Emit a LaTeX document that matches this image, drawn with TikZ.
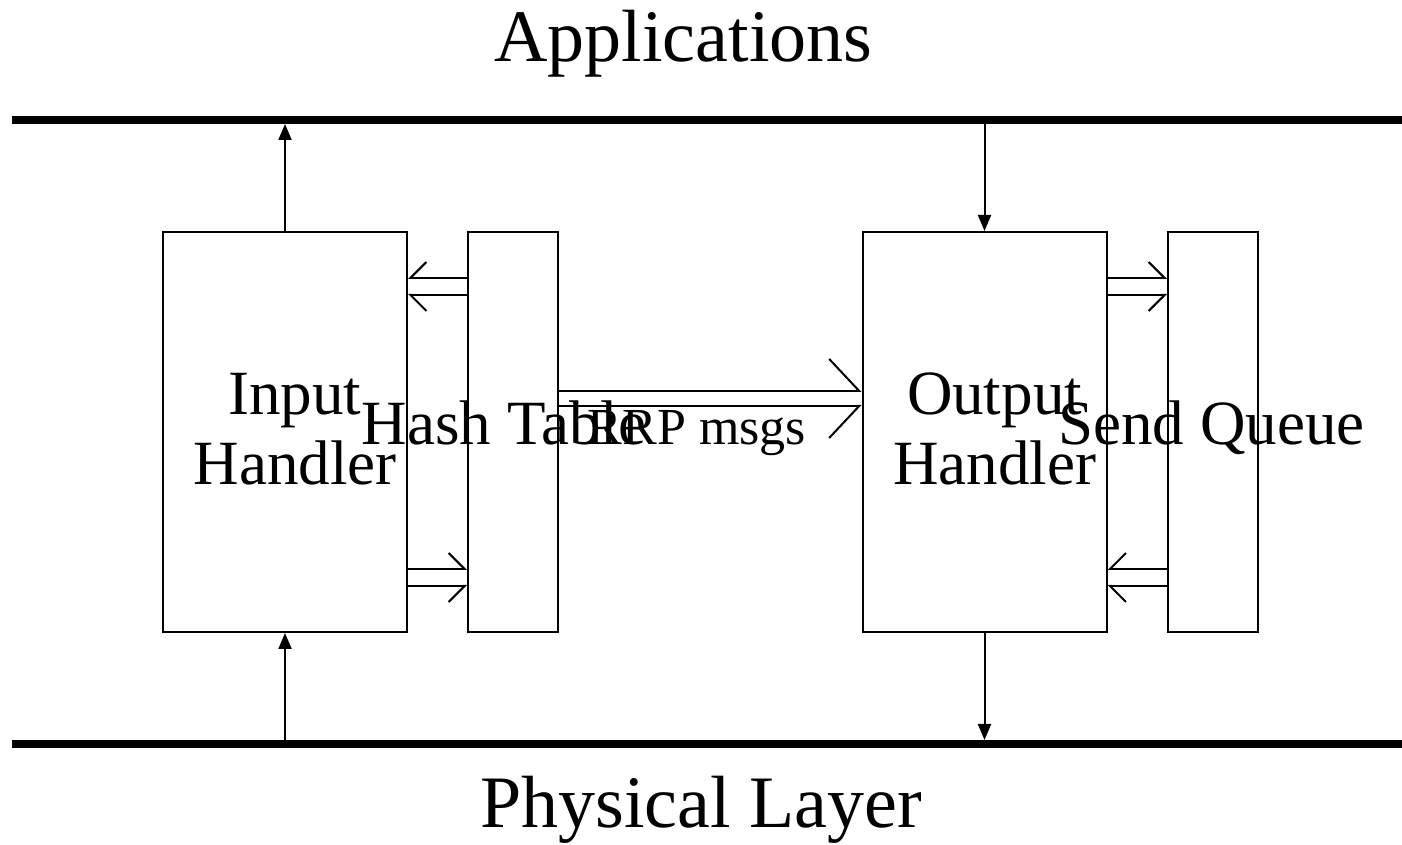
\documentclass[tikz,border=0pt]{standalone}
\usepackage{fontspec}
\setmainfont{Liberation Serif}
\usetikzlibrary{arrows.meta,positioning}
\tikzset{
  blk/.style={draw,line width=1pt,minimum width=122pt,minimum height=200pt,inner sep=0pt},
  blkn/.style={blk,minimum width=45pt},
  bar/.style={line width=4pt},
  flow/.style={-{Triangle[length=8pt,width=6.5pt]},line width=1pt},
  barbl/.style={-{Straight Barb[left,length=8pt,width=16pt]},line width=1pt},
  barbr/.style={-{Straight Barb[right,length=8pt,width=16pt]},line width=1pt},
  bigl/.style={-{Straight Barb[left,length=15pt,width=32pt]},line width=1pt},
  bigr/.style={-{Straight Barb[right,length=15pt,width=32pt]},line width=1pt},
  lbl/.style={inner sep=0pt,font=\fontsize{31.5}{35}\selectfont,align=center},
  ttl/.style={inner sep=0pt,font=\fontsize{37}{40}\selectfont,anchor=base},
}

\begin{document}
\begin{tikzpicture}[x=0.5pt,y=0.5pt]
  \useasboundingbox (0,0) rectangle (1402,845);

  % the two layers
  \coordinate (topl) at (12,725);
  \coordinate (topr) at (1402,725);
  \coordinate (botl) at (12,101);
  \coordinate (botr) at (1402,101);
  \coordinate (tope) at (12,721);
  \coordinate (bote) at (12,105);
  \draw[bar] (topl) -- (topr);
  \draw[bar] (botl) -- (botr);
  \node[ttl] (apps) at (683.5,783) {Applications};
  \node[ttl] (phys) at (701,17) {Physical Layer};

  % blocks
  \node[blk]  (ih) at (285,413) {};
  \node[blkn] (ht) at (513,413) {};
  \node[blk]  (oh) at (984.5,413) {};
  \node[blkn] (sq) at (1213,413) {};

  \node[lbl] (ihl) at (295,416) {Input\\Handler};
  \node[lbl,anchor=base] (htl) at (504,400) {Hash Table};
  \node[lbl,anchor=base,font=\fontsize{26}{30}\selectfont] (rrp) at (697,400) {RRP msgs};
  \node[lbl] (ohl) at (994.5,416) {Output\\Handler};
  \node[lbl,anchor=base] (sql) at (1211.5,400) {Send Queue};

  % single arrows
  \draw[flow] (ih.north) -- (ih.north |- tope);
  \draw[flow] (ih.south |- bote) -- (ih.south);
  \draw[flow] (oh.north |- tope) -- (oh.north);
  \draw[flow] (oh.south) -- (oh.south |- bote);

  % double arrows
  \draw[barbr] ([yshift=-23.5pt]ht.north west) -- ([yshift=-23.5pt]ih.north east);
  \draw[barbl] ([yshift=-32pt]ht.north west) -- ([yshift=-32pt]ih.north east);
  \draw[barbl] ([yshift=32pt]ih.south east) -- ([yshift=32pt]ht.south west);
  \draw[barbr] ([yshift=23.5pt]ih.south east) -- ([yshift=23.5pt]ht.south west);

  \draw[bigl] ([yshift=-80pt]ht.north east) -- ([yshift=-80pt]oh.north west);
  \draw[bigr] ([yshift=-87.5pt]ht.north east) -- ([yshift=-87.5pt]oh.north west);

  \draw[barbl] ([yshift=-23.5pt]oh.north east) -- ([yshift=-23.5pt]sq.north west);
  \draw[barbr] ([yshift=-32pt]oh.north east) -- ([yshift=-32pt]sq.north west);
  \draw[barbr] ([yshift=32pt]sq.south west) -- ([yshift=32pt]oh.south east);
  \draw[barbl] ([yshift=23.5pt]sq.south west) -- ([yshift=23.5pt]oh.south east);
\end{tikzpicture}
\end{document}
